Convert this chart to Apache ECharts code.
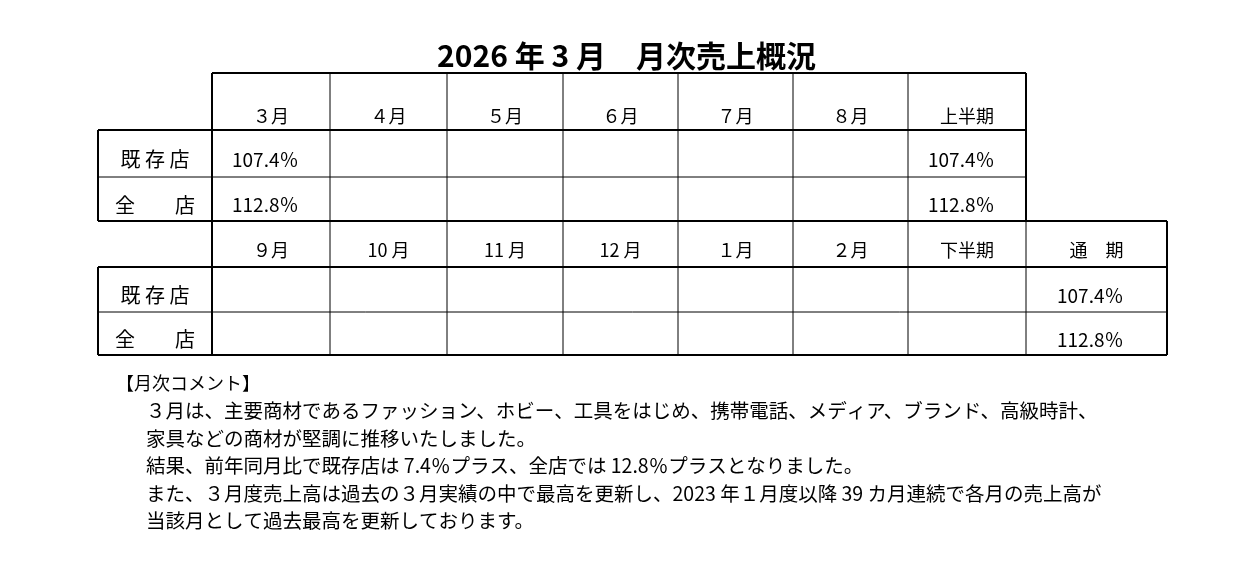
<!DOCTYPE html>
<html><head><meta charset="utf-8">
<script src="https://cdn.jsdelivr.net/npm/echarts@6/dist/echarts.min.js"></script>
<style>html,body{margin:0;background:#fff}#c{width:1253px;height:569px}</style>
</head><body><div id="c"></div>
<script>
const title = '2026 年 3 月　月次売上概況'
const headers1 = ['３月', '４月', '５月', '６月', '７月', '８月', '上半期']
const headers2 = ['９月', '10 月', '11 月', '12 月', '１月', '２月', '下半期', '通　期']
const rowLabels = ['既 存 店', '全　　店']
const values1 = [['107.4％', '', '', '', '', '', '107.4％'], ['112.8％', '', '', '', '', '', '112.8％']]
const values2 = [['', '', '', '', '', '', '', '107.4％'], ['', '', '', '', '', '', '', '112.8％']]
const commentTitle = '【月次コメント】'
const commentLines = [
  '３月は、主要商材であるファッション、ホビー、工具をはじめ、携帯電話、メディア、ブランド、高級時計、',
  '家具などの商材が堅調に推移いたしました。',
  '結果、前年同月比で既存店は 7.4％プラス、全店では 12.8％プラスとなりました。',
  'また、３月度売上高は過去の３月実績の中で最高を更新し、2023 年１月度以降 39 カ月連続で各月の売上高が',
  '当該月として過去最高を更新しております。'
]

const colX = [98, 212, 330, 447, 563, 678, 793, 908, 1026, 1167]
const rowY = [73, 130, 177, 221, 267, 312, 355]
const font = '"Noto Sans CJK JP", sans-serif'
const els = []
function line(x1, y1, x2, y2, w) {
  els.push({ type: 'line', shape: { x1, y1, x2, y2 }, style: { stroke: '#000', lineWidth: w || 1 } })
}
function text(s, x, y, align, size, weight) {
  els.push({ type: 'text', x, y, style: { text: s, fill: '#000', font: (weight || 'normal') + ' ' + (size || 17) + 'px ' + font, textAlign: align || 'left', textVerticalAlign: 'middle' } })
}
line(212, rowY[0], 1026, rowY[0], 2)
line(98, rowY[1], 1026, rowY[1], 2)
line(98, rowY[2], 1026, rowY[2])
line(98, rowY[3], 1167, rowY[3], 2)
line(98, rowY[4], 1167, rowY[4], 2)
line(98, rowY[5], 1167, rowY[5])
line(98, rowY[6], 1167, rowY[6], 2)
line(98, rowY[1], 98, rowY[3], 2)
line(98, rowY[4], 98, rowY[6], 2)
for (let i = 1; i <= 8; i++) {
  line(colX[i], rowY[0], colX[i], rowY[3], i === 1 || i === 8 ? 2 : 1)
  line(colX[i], rowY[3], colX[i], rowY[6], i === 1 ? 2 : 1)
}
line(colX[9], rowY[3], colX[9], rowY[6], 2)
headers1.forEach((h, i) => text(h, (colX[i + 1] + colX[i + 2]) / 2, 116, 'center', 18))
headers2.forEach((h, i) => text(h, (colX[i + 1] + colX[i + 2]) / 2, 250, 'center', 18))
rowLabels.forEach((r, j) => {
  const y1 = (rowY[1 + j] + rowY[2 + j]) / 2 + 6
  const y2 = (rowY[4 + j] + rowY[5 + j]) / 2 + 6
  text(r, 155, y1, 'center', 20)
  text(r, 155, y2, 'center', 20)
  values1[j].forEach((v, i) => { if (v) text(v, colX[i + 1] + 20, y1, 'left', 19) })
  values2[j].forEach((v, i) => { if (v) text(v, colX[i + 1] + 31, y2, 'left', 19) })
})
text(commentTitle, 116, 383, 'left', 18)
commentLines.forEach((s, i) => text(s, 146, 411 + i * 27.5, 'left', 19.5))

const chart = echarts.init(document.getElementById('c'))
chart.setOption({
  title: { text: title, left: 'center', top: 36, textStyle: { fontFamily: font, fontSize: 30, fontWeight: 'bold', color: '#000' } },
  graphic: { elements: els }
})
</script></body></html>
